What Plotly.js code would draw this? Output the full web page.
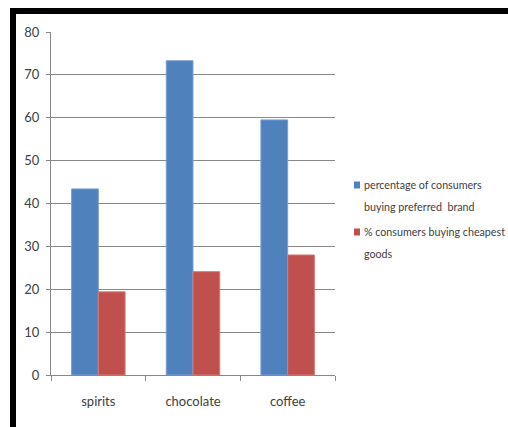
<!DOCTYPE html>
<html>
<head>
<meta charset="utf-8">
<script src="https://cdn.plot.ly/plotly-3.0.1.min.js"></script>
<style>
  html, body { margin: 0; padding: 0; background: #fff; }
  #wrap { position: relative; width: 508px; height: 427px; overflow: hidden; }
  #chart { position: absolute; left: 0; top: 0; width: 508px; height: 427px; }
  #frame { position: absolute; left: 10px; top: 8px; width: 498px; height: 419px;
           border-left: 6px solid #000; border-top: 6px solid #000; box-sizing: border-box;
           pointer-events: none; }
</style>
</head>
<body>
<div id="wrap">
  <div id="chart"></div>
  <div id="frame"></div>
</div>
<script>
const categories = ["spirits", "chocolate", "coffee"];
const seriesNames = ["percentage of consumers buying preferred  brand", "% consumers buying cheapest goods"];
const legendLines = [["percentage of consumers", "buying preferred  brand"], ["% consumers buying cheapest", "goods"]];
const preferredBrand = [43.4, 73.3, 59.5];
const cheapestGoods = [19.4, 24.1, 28.0];
const yTickValues = [0, 10, 20, 30, 40, 50, 60, 70, 80];
const seriesColors = ["#4F81BD", "#C0504D"];

const fontFam = "Lato, 'Open Sans', sans-serif";

const traces = [
  { type: "bar", x: categories, y: preferredBrand, name: seriesNames[0], showlegend: false,
    marker: { color: seriesColors[0], line: { color: "#7A9FD0", width: 1 } } },
  { type: "bar", x: categories, y: cheapestGoods, name: seriesNames[1], showlegend: false,
    marker: { color: seriesColors[1], line: { color: "#D27C79", width: 1 } } }
];

// pixel helpers for the hand-placed legend (plot area: x 51..335, y 32..375)
const PL = 51, PW = 284, PB = 375, PH = 343;
const px = v => (v - PL) / PW;
const py = v => (PB - v) / PH;

const legendTop = [185, 232];   // first-line centres (px)
const lineGap = 21.5;
const annotations = [];
const shapes = [];
legendLines.forEach((lines, i) => {
  lines.forEach((t, j) => {
    annotations.push({
      xref: "paper", yref: "paper", x: px(362), y: py(legendTop[i] + j * lineGap),
      xanchor: "left", yanchor: "middle", showarrow: false, text: t,
      font: { family: fontFam, size: 10.7, color: "#404040" }
    });
  });
  shapes.push({
    type: "rect", xref: "paper", yref: "paper",
    x0: px(354), x1: px(360), y0: py(legendTop[i] - 3.5), y1: py(legendTop[i] + 3.5),
    fillcolor: seriesColors[i], line: { width: 0 }
  });
});

const layout = {
  width: 508, height: 427,
  paper_bgcolor: "#fff", plot_bgcolor: "#fff",
  margin: { l: 51, r: 173, t: 32, b: 52, autoexpand: false },
  barmode: "group", bargap: 0.435, bargroupgap: 0,
  font: { family: fontFam, size: 13, color: "#404040" },
  xaxis: {
    type: "category", automargin: false,
    showline: true, linecolor: "#888", linewidth: 1,
    ticks: "outside", tickson: "boundaries", ticklen: 5, tickcolor: "#888",
    showgrid: false, zeroline: false,
    tickfont: { family: fontFam, size: 13, color: "#404040" },
    ticklabelstandoff: 14
  },
  yaxis: {
    range: [0, 80], tickvals: yTickValues, automargin: false,
    showline: true, linecolor: "#888", linewidth: 1,
    ticks: "outside", ticklen: 4, tickcolor: "#888",
    showgrid: true, gridcolor: "#888", gridwidth: 1, zeroline: false,
    tickfont: { family: fontFam, size: 13, color: "#404040" },
    ticklabelstandoff: 4
  },
  showlegend: false,
  annotations: annotations,
  shapes: shapes
};

Plotly.newPlot("chart", traces, layout, { staticPlot: true, displayModeBar: false });
</script>
</body>
</html>
